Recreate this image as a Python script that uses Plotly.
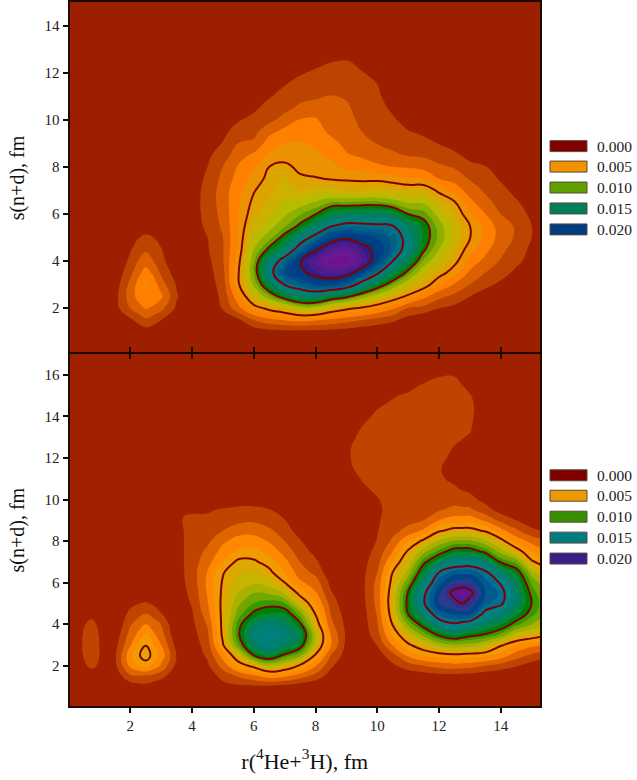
import plotly.graph_objects as go

W, H = 637, 780

# Values are in units of 0.001. Each entry: (x, y of first value, values every 0.5 fm in y).
TOP_COLUMNS = [
    (0.0, 0, [0]),
    (1.0, 0, [0]),
    (1.5, 1.5, [.3, .6, .6, .4, .2]),
    (2.0, 1, [.3, .8, 2.0, 2.5, 2.3, 1.7, 1.25, .9, .5, .1]),
    (2.25, 1, [.4, 1.3, 2.6, 3.3, 3.3, 2.7, 2.0, 1.45, .95, .3]),
    (2.5, 1, [.5, 1.8, 3.1, 3.9, 4.1, 3.4, 2.6, 1.8, 1.2, .4]),
    (2.75, 1, [.4, 1.4, 2.8, 3.7, 3.5, 2.8, 2.0, 1.5, 1.0, .3]),
    (3.0, 1, [.3, 1.0, 2.3, 3.2, 2.5, 1.8, 1.3, 1.05, .55, .1]),
    (3.5, 1.5, [.3, .8, 1.1, .9, .5, .2]),
    (4.0, 2, [.1, .1, .1, .2, .3, .4, .5, .55, .6, .6, .6, .55, .5, .4, .2]),
    (4.5, 2, [.1, .2, .4, .55, .7, .9, 1.0, 1.2, 1.3, 1.35, 1.3, 1.15, 1.0, .8, .6, .3, .1]),
    (5.0, 1, [.1, .4, 1.1, 1.3, 1.5, 1.7, 1.9, 1.95, 2.0, 2.2, 2.35, 2.5, 2.5, 2.3, 2.0, 1.5, 1.05, .7, .4, .1]),
    (5.5, 1, [.3, .8, 2.7, 3.7, 4.8, 4.9, 4.6, 4.2, 4.1, 4.0, 3.95, 3.85, 3.7, 3.4, 3.1, 2.6, 2.0, 1.5, .9, .5, .1]),
    (6.0, 1, [.4, 2.0, 4.4, 6.5, 8.2, 9.0, 8.8, 8.0, 7.2, 6.4, 5.7, 5.3, 4.9, 4.3, 3.9, 3.2, 2.2, 1.7, 1.3, .8, .3]),
    (6.5, 1, [.6, 2.7, 5.4, 8.8, 11.8, 14.0, 13.2, 10.4, 8.6, 7.5, 6.8, 6.2, 5.8, 5.4, 5.0, 4.2, 3.5, 2.7, 1.7, 1.4, .9, .4, .1]),
    (7.0, 1, [.7, 3.1, 6.2, 11.0, 15.1, 17.8, 16.2, 12.9, 10.6, 8.8, 7.8, 7.1, 6.6, 6.2, 5.3, 4.5, 4.0, 3.3, 2.4, 1.7, 1.4, .95, .4, .1]),
    (7.5, 1, [.7, 3.3, 7.6, 12.7, 16.5, 19.4, 19.8, 16.2, 13.7, 10.3, 8.9, 7.3, 6.0, 5.2, 4.7, 4.4, 4.1, 3.5, 3.05, 2.2, 1.7, 1.3, .9, .3, .05]),
    (8.0, 1, [.7, 3.1, 7.5, 13.0, 17.9, 20.9, 22.3, 19.6, 15.8, 12.7, 9.9, 8.1, 6.5, 5.1, 4.4, 4.2, 3.8, 3.4, 3.1, 2.5, 1.8, 1.5, 1.15, .7, .2]),
    (8.5, 1, [.6, 2.8, 6.1, 11.4, 18.0, 22.0, 24.5, 22.0, 18.6, 14.8, 11.8, 9.0, 6.4, 4.9, 4.3, 3.8, 3.3, 2.8, 2.5, 2.3, 2.05, 1.6, 1.3, .95, .2]),
    (9.0, 1, [.5, 2.4, 5.3, 10.5, 16.7, 21.2, 24.6, 23.0, 19.6, 15.7, 12.3, 9.0, 6.0, 4.8, 3.7, 3.1, 2.75, 2.5, 2.35, 2.15, 1.9, 1.6, 1.3, 1.05, .3]),
    (9.5, 1, [.3, 2.0, 4.8, 8.7, 13.9, 18.3, 22.4, 21.0, 18.7, 15.6, 12.4, 9.2, 6.0, 4.7, 3.6, 2.8, 2.4, 2.0, 1.75, 1.6, 1.45, 1.3, 1.05, .7, .1]),
    (10.0, 1, [.1, 1.6, 4.0, 7.3, 11.2, 15.4, 18.4, 19.2, 17.9, 15.4, 12.4, 9.2, 6.2, 4.7, 3.2, 2.5, 1.95, 1.75, 1.55, 1.4, 1.25, 1.0, .6, .1]),
    (10.5, 1.5, [1.2, 3.2, 5.9, 9.0, 12.1, 15.0, 16.6, 16.6, 15.0, 11.9, 8.6, 6.1, 4.4, 3.0, 2.2, 1.65, 1.4, 1.15, .8, .3]),
    (11.0, 1.5, [.6, 1.9, 4.7, 7.0, 9.5, 11.8, 13.9, 14.0, 12.7, 10.0, 7.8, 6.0, 3.9, 2.9, 1.9, 1.4, 1.05, .6, .2]),
    (11.5, 2, [1.7, 3.3, 5.8, 7.0, 8.8, 10.3, 10.9, 10.7, 9.4, 7.8, 6.0, 3.8, 2.7, 1.8, 1.3, .8, .3]),
    (12.0, 2, [1.0, 2.3, 3.9, 5.6, 6.9, 8.0, 8.7, 8.5, 7.5, 6.1, 4.7, 3.0, 2.2, 1.5, .95, .5, .1]),
    (12.5, 2, [.7, 1.7, 2.9, 4.3, 5.4, 6.1, 6.7, 6.6, 6.0, 5.1, 3.6, 2.6, 1.9, 1.2, .6, .1]),
    (13.0, 2, [.3, 1.0, 2.0, 2.8, 3.6, 4.4, 5.05, 5.0, 4.1, 3.3, 2.55, 1.9, 1.25, .7, .3, .05]),
    (13.5, 2.5, [.5, 1.25, 2.0, 2.7, 3.3, 3.7, 3.6, 3.0, 2.3, 1.85, 1.4, 1.05, .5, .1]),
    (14.0, 2.5, [.1, .8, 1.35, 1.9, 2.3, 2.6, 2.55, 2.0, 1.65, 1.25, .9, .45, .1]),
    (14.5, 3, [.3, .8, 1.2, 1.5, 1.85, 1.85, 1.45, 1.1, .75, .4, .1]),
    (15.0, 3, [.1, .3, .7, .8, 1.0, 1.0, .8, .6, .4, .2]),
    (15.5, 4, [.1, .2, .3, .3, .2, .1]),
]

BOTTOM_COLUMNS = [
    (0.0, 0, [0]),
    (0.4, 2, [.6, .85, .9, .85, .7]),
    (0.75, 1.5, [.3, 1.3, 1.6, 1.7, 1.7, 1.4, .6]),
    (1.1, 2, [.6, .75, .7, .6, .4]),
    (1.5, 1.5, [.3, .7, .8, .6, .3]),
    (2.0, 1, [.4, 1.8, 3.3, 3.7, 2.9, 2.4, 1.9, 1.3, .7, .1]),
    (2.25, 1, [.6, 1.9, 4.0, 4.8, 4.0, 3.2, 2.45, 1.7, .95, .2]),
    (2.5, 1, [.7, 1.85, 4.4, 5.6, 4.95, 4.05, 3.0, 2.0, 1.1, .3]),
    (2.75, 1, [.4, 1.7, 3.7, 4.6, 4.0, 3.2, 2.5, 1.6, .85, .2]),
    (3.0, 1, [.1, 1.4, 2.8, 3.6, 3.0, 2.4, 1.95, 1.05, .45]),
    (3.5, 1.5, [.1, .7, .95, .6, .2]),
    (3.75, 2.5, [.1, .1, .2, .4, .6, .7, .85, .95, 1.0, 1.05, 1.05, 1.05, 1.1, 1.3, .6]),
    (4.0, 2.5, [.2, .4, .55, .75, .9, 1.1, 1.25, 1.4, 1.5, 1.5, 1.5, 1.4, 1.4, 1.3, .8, .1]),
    (4.5, 1.5, [.3, .8, 1.2, 1.5, 1.8, 2.1, 2.6, 2.9, 3.1, 3.2, 3.05, 2.6, 2.2, 1.8, 1.5, 1.2, .9, .2]),
    (5.0, 1, [.6, 1.4, 2.4, 3.5, 4.9, 5.3, 5.4, 5.4, 5.4, 5.3, 5.15, 4.9, 4.0, 3.4, 2.8, 2.0, 1.5, 1.1, .3]),
    (5.5, 1, [.8, 2.1, 4.3, 6.1, 8.9, 9.8, 9.5, 8.5, 7.8, 7.0, 6.4, 5.9, 5.3, 4.1, 3.4, 2.6, 1.7, 1.3, .4]),
    (6.0, 1, [.8, 2.8, 5.4, 10.0, 12.5, 13.3, 12.0, 10.3, 9.0, 8.0, 6.8, 6.0, 5.2, 4.3, 3.5, 2.6, 1.85, 1.3, .4]),
    (6.5, 1, [.8, 3.5, 7.0, 11.6, 13.8, 14.2, 13.0, 11.0, 9.5, 7.8, 6.4, 5.3, 4.5, 3.7, 2.9, 2.2, 1.5, 1.05, .3]),
    (7.0, 1, [.6, 3.2, 6.2, 9.7, 12.6, 13.5, 12.4, 11.0, 9.0, 6.9, 5.0, 3.9, 3.3, 2.6, 2.0, 1.5, 1.05, .3]),
    (7.5, 1, [.3, 2.5, 4.8, 8.2, 10.9, 11.9, 10.3, 8.5, 6.2, 4.5, 3.2, 2.5, 2.0, 1.5, 1.1, .5, .1]),
    (8.0, 1, [.1, 1.6, 3.1, 4.8, 6.5, 7.0, 5.8, 4.9, 4.0, 3.1, 2.5, 1.7, 1.2, .7, .2]),
    (8.5, 1.5, [.5, 1.2, 2.0, 3.0, 2.9, 2.3, 1.9, 1.55, 1.1, .7, .3]),
    (9.0, 2, [.1, .5, .7, .8, .7, .5, .3, .2, .1, .1, .1, .1, .1, .1, .1, .1, .1, .3, .5, .7, .8, .8, .6, .4, .2]),
    (9.5, 3, [.1, .3, .4, .5, .6, .65, .7, .65, .6, .5, .4, .4, .3, .4, .6, .85, 1.05, 1.35, 1.5, 1.45, 1.25, 1.0, .7, .3, .1]),
    (10.0, 2.5, [.5, 1.05, 1.6, 1.9, 2.1, 2.3, 2.4, 2.3, 2.0, 1.6, 1.3, 1.05, .95, .9, .88, .95, 1.15, 1.4, 1.5, 1.6, 1.6, 1.55, 1.4, 1.2, .9, .4, .1]),
    (10.5, 1.5, [.1, .8, 1.6, 3.1, 4.2, 5.1, 5.8, 6.1, 5.9, 5.5, 5.0, 4.0, 3.0, 2.2, 1.7, 1.4, 1.25, 1.3, 1.35, 1.5, 1.6, 1.7, 1.7, 1.6, 1.5, 1.4, 1.2, .9, .4]),
    (11.0, 1.5, [.3, 1.5, 3.2, 4.8, 6.2, 8.3, 10.1, 10.5, 10.2, 8.8, 7.4, 6.2, 5.2, 3.9, 2.3, 1.7, 1.5, 1.5, 1.5, 1.6, 1.65, 1.7, 1.7, 1.6, 1.55, 1.5, 1.35, 1.2, .6]),
    (11.5, 1.5, [.4, 2.0, 4.1, 5.9, 8.4, 10.8, 13.0, 14.8, 14.6, 13.0, 11.3, 9.6, 7.6, 5.3, 3.2, 2.0, 1.75, 1.65, 1.6, 1.6, 1.65, 1.7, 1.7, 1.65, 1.6, 1.6, 1.5, 1.4, 1.15, .3]),
    (12.0, 1.5, [.6, 2.4, 4.4, 7.3, 10.4, 13.7, 16.5, 18.0, 17.7, 16.7, 15.0, 11.8, 9.3, 7.2, 4.8, 3.0, 1.9, 1.5, 1.3, 1.1, 1.05, 1.2, 1.4, 1.5, 1.6, 1.65, 1.65, 1.6, 1.4, .9]),
    (12.5, 1.5, [.6, 2.6, 4.7, 7.9, 11.5, 14.8, 17.3, 19.1, 20.9, 18.5, 16.5, 13.5, 10.8, 8.2, 5.5, 3.5, 2.3, 1.55, 1.1, .85, .75, .8, .95, 1.2, 1.45, 1.6, 1.6, 1.6, 1.45, .9]),
    (12.75, 1.5, [.55, 2.5, 4.6, 7.7, 11.0, 14.4, 17.4, 20.1, 21.6, 18.6, 16.6, 13.7, 10.8, 8.2, 5.5, 3.55, 2.25, 1.4, .95, .7, .6, .65, .8, 1.05, 1.3, 1.45, 1.5, 1.4, 1.0, .5]),
    (13.0, 1.5, [.5, 2.4, 4.5, 7.6, 10.6, 14.0, 17.4, 19.0, 20.7, 18.6, 16.6, 13.8, 10.8, 8.2, 5.5, 3.6, 2.2, 1.3, .8, .6, .5, .5, .7, .9, 1.15, 1.3, 1.35, 1.1, .5, .1]),
    (13.5, 1.5, [.3, 2.0, 4.3, 6.8, 9.9, 12.3, 14.4, 16.3, 17.0, 16.4, 15.4, 12.8, 9.6, 7.2, 4.8, 2.8, 1.4, .7, .3, .2, .1]),
    (14.0, 1.5, [.1, 1.6, 3.6, 5.2, 8.8, 11.2, 13.2, 15.4, 15.8, 14.8, 12.6, 9.8, 7.6, 5.5, 3.4, 1.7, .6, .1]),
    (14.5, 2, [1.1, 2.5, 4.0, 6.6, 9.4, 11.3, 12.6, 12.6, 12.0, 10.8, 8.6, 5.7, 3.6, 2.2, 1.0, .3]),
    (15.0, 2, [.5, 1.8, 3.3, 6.0, 8.0, 9.4, 10.0, 9.6, 8.8, 7.5, 5.2, 3.9, 2.7, 1.2, .5]),
    (15.5, 2, [.3, 1.2, 3.0, 5.3, 6.8, 7.8, 8.0, 7.6, 6.8, 5.6, 4.2, 3.0, 2.1, .9, .2]),
]

TOP_Y = [i * 0.5 for i in range(31)]
BOTTOM_Y = [i * 0.5 for i in range(35)]

TOP_COLORS = ["#9c2000", "#bc4400", "#dc6000", "#ff8000", "#ec9200", "#dda400", "#cdb000", "#b8bc00", "#8fb000",
              "#5fa000", "#008000", "#00853a", "#00805a", "#008070", "#007f80", "#007088", "#006088", "#005088",
              "#004088", "#003c80", "#301e88", "#4c1c8c", "#5c1a90", "#681890", "#701090", "#900090"]
BOTTOM_COLORS = ["#a02000", "#c04400", "#e06400", "#ff8800", "#f09c00", "#dda800", "#c8b400", "#a8b000", "#70a800",
                 "#389800", "#008000", "#008840", "#008060", "#008078", "#008088", "#007090", "#005a90", "#004488",
                 "#2a3a8c", "#3a2a8a", "#501c90", "#701090"]

LEGEND_LABELS = ["0.000", "0.005", "0.010", "0.015", "0.020"]
TOP_LEGEND_COLORS = ["#800000", "#f39200", "#5fa000", "#007f5c", "#003c80"]
BOTTOM_LEGEND_COLORS = ["#800000", "#ec9a00", "#389000", "#007d80", "#3a1f88"]
X_TICKS = [2, 4, 6, 8, 10, 12, 14]
TOP_Y_TICKS = [2, 4, 6, 8, 10, 12, 14]
BOTTOM_Y_TICKS = [2, 4, 6, 8, 10, 12, 14, 16]

FONT = "Liberation Serif"
INK = "#1a0a00"


def grid(columns, ys):
    xs, rows = [], [[0.0] * len(columns) for _ in ys]
    for c, (x, y0, vals) in enumerate(columns):
        xs.append(x)
        start = int(round(y0 * 2))
        for k, v in enumerate(vals):
            rows[start + k][c] = v
    return xs, rows


def stepped(colors):
    n = len(colors) - 1
    return [[i / n, col] for i, col in enumerate(colors)]


def add_panel(fig, columns, ys, colors, xa, ya):
    xs, z = grid(columns, ys)
    top = len(colors) - 1
    fig.add_trace(go.Contour(
        x=xs, y=ys, z=z, xaxis=xa, yaxis=ya, showscale=False, hoverinfo="skip",
        autocontour=False, colorscale=stepped(colors),
        contours=dict(coloring="fill", start=1, end=top, size=1, showlines=False),
        line=dict(width=0, smoothing=1.3),
    ))
    fig.add_trace(go.Contour(
        x=xs, y=ys, z=z, xaxis=xa, yaxis=ya, showscale=False, hoverinfo="skip",
        autocontour=False, colorscale=[[0, "#800000"], [1, "#800000"]],
        contours=dict(coloring="lines", start=5, end=20, size=5),
        line=dict(width=2, color="#800000", smoothing=1.3),
    ))


fig = go.Figure()
add_panel(fig, TOP_COLUMNS, TOP_Y, TOP_COLORS, "x", "y")
add_panel(fig, BOTTOM_COLUMNS, BOTTOM_Y, BOTTOM_COLORS, "x2", "y2")
# Empty trace that carries the tick marks running down from the shared edge.
fig.add_trace(go.Scatter(x=[], y=[], xaxis="x3", yaxis="y2", hoverinfo="skip"))

axis_common = dict(showgrid=False, zeroline=False, showline=True, linecolor=INK, linewidth=2,
                   ticks="outside", ticklen=5, tickwidth=2, tickcolor=INK,
                   tickfont=dict(family=FONT, size=15, color="#222"))
X_DOM = [69.5 / W, 540 / W]
Y_TITLE_FONT = dict(family=FONT, size=20, color="#111")
X_TITLE_FONT = dict(family=FONT, size=22, color="#111")
fig.update_layout(
    width=W, height=H, margin=dict(l=0, r=0, t=0, b=0), paper_bgcolor="white", plot_bgcolor="white",
    showlegend=False, font=dict(family=FONT),
    xaxis=dict(domain=X_DOM, range=[0.03, 15.27], anchor="y", tickvals=X_TICKS, showticklabels=False,
               mirror=True, **axis_common),
    yaxis=dict(domain=[1 - 353 / H, 1], range=[0.05, 15], anchor="x", tickvals=TOP_Y_TICKS, mirror=True,
               title=dict(text="s(n+d), fm", font=Y_TITLE_FONT, standoff=14), **axis_common),
    xaxis2=dict(domain=X_DOM, range=[0.03, 15.27], anchor="y2", tickvals=X_TICKS, mirror="ticks",
                title=dict(text="r(<sup>4</sup>He+<sup>3</sup>H), fm", font=X_TITLE_FONT, standoff=20), **axis_common),
    xaxis3=dict(domain=X_DOM, range=[0.03, 15.27], anchor="y2", overlaying="x2", side="top", tickvals=X_TICKS,
                showticklabels=False, showgrid=False, zeroline=False, showline=False,
                ticks="inside", ticklen=5, tickwidth=2, tickcolor=INK),
    yaxis2=dict(domain=[1 - 706 / H, 1 - 353 / H], range=[0.05, 17], anchor="x2", tickvals=BOTTOM_Y_TICKS, mirror=True,
                title=dict(text="s(n+d), fm", font=Y_TITLE_FONT, standoff=14), **axis_common),
)


def add_legend(colors, tops):
    for col, lab, t in zip(colors, LEGEND_LABELS, tops):
        fig.add_shape(type="rect", xref="paper", yref="paper", x0=550 / W, x1=587 / W,
                      y0=1 - (t + 11) / H, y1=1 - t / H, fillcolor=col,
                      line=dict(color="#5a4a3a", width=1))
        fig.add_annotation(xref="paper", yref="paper", x=594.5 / W, y=1 - (t + 5.5) / H, text=lab,
                           showarrow=False, xanchor="left", yanchor="middle",
                           font=dict(family=FONT, size=15.5, color="#222"))


add_legend(TOP_LEGEND_COLORS, [139, 159.5, 180.5, 201.5, 222.5])
add_legend(BOTTOM_LEGEND_COLORS, [469, 489.5, 510.5, 531.5, 552.5])

fig.write_html("out.html", config=dict(displayModeBar=False), post_script="document.body.style.margin='0';")
